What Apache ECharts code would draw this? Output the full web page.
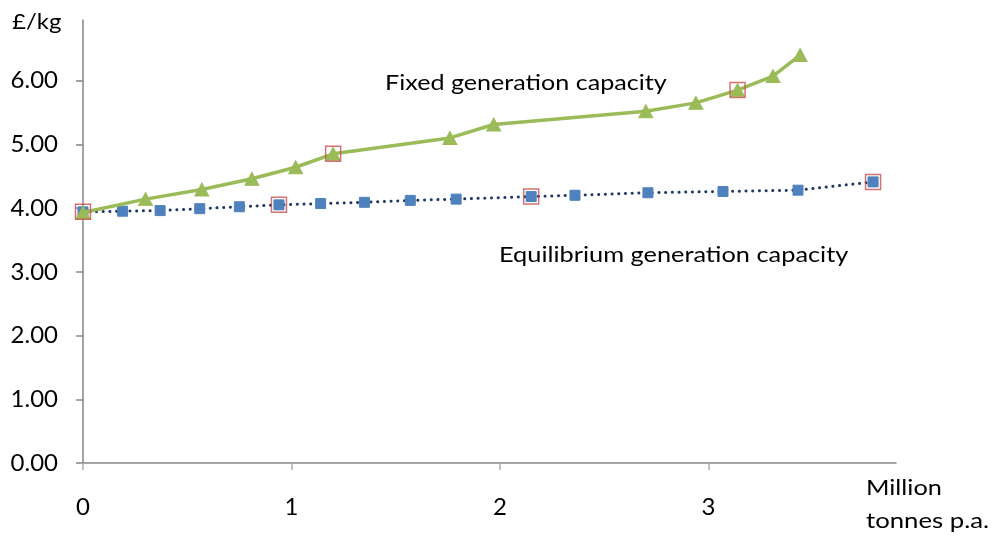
<!DOCTYPE html>
<html>
<head>
<meta charset="utf-8">
<script src="https://cdn.jsdelivr.net/npm/echarts@6/dist/echarts.min.js"></script>
<style>
  html, body { margin: 0; padding: 0; background: #fff; }
  #chart { width: 992px; height: 536px; }
</style>
</head>
<body>
<div id="chart"></div>
<script>
// Cost of output (£/kg) against production (million tonnes p.a.)
var fixedX = [0, 0.30, 0.57, 0.81, 1.02, 1.20, 1.76, 1.97, 2.70, 2.94, 3.14, 3.31, 3.44];
var fixedY = [3.93, 4.14, 4.29, 4.46, 4.64, 4.85, 5.10, 5.31, 5.52, 5.65, 5.85, 6.07, 6.40];

var equilX = [0, 0.19, 0.37, 0.56, 0.75, 0.94, 1.14, 1.35, 1.57, 1.79, 2.15, 2.36, 2.71, 3.07, 3.43, 3.79];
var equilY = [3.94, 3.95, 3.96, 3.99, 4.02, 4.05, 4.07, 4.09, 4.12, 4.14, 4.18, 4.20, 4.24, 4.26, 4.28, 4.41];

// Points picked out with an outlined box
var fixedHighlight = [5, 10];
var equilHighlight = [0, 5, 10, 15];

var xTicks = [0, 1, 2, 3];
var yTicks = [0, 1, 2, 3, 4, 5, 6];

var FONT = 'Lato';

function pairs(xs, ys) {
  return xs.map(function (x, i) { return [x, ys[i]]; });
}
function picks(xs, ys, idx) {
  return idx.map(function (i) { return [xs[i], ys[i]]; });
}
// Free-standing caption, stretched slightly wider than the face's natural width
function caption(text, x, y, sx) {
  return {
    type: 'text', x: x, y: y, scaleX: sx, scaleY: 1,
    style: { text: text, font: '22px ' + FONT, fill: '#000', verticalAlign: 'top', align: 'left' }
  };
}

var chart = echarts.init(document.getElementById('chart'), null, { renderer: 'canvas' });

var axisGrey = '#868686';

chart.setOption({
  animation: false,
  backgroundColor: '#ffffff',
  textStyle: { fontFamily: FONT },
  grid: { left: 83, right: 96, top: 20, bottom: 73, containLabel: false },
  xAxis: {
    type: 'value',
    min: xTicks[0],
    max: 3.9,
    interval: 1,
    splitLine: { show: false },
    axisLine: { show: true, onZero: false, lineStyle: { color: axisGrey, width: 1.5 } },
    axisTick: { show: true, inside: false, length: 7, lineStyle: { color: '#b0b0b0', width: 1.5 } },
    axisLabel: {
      show: true, color: '#000', fontFamily: FONT, fontSize: 24, margin: 32,
      showMaxLabel: false,
      formatter: function (v) { return xTicks.indexOf(v) >= 0 ? String(v) : ''; }
    }
  },
  yAxis: {
    type: 'value',
    min: yTicks[0],
    max: 6.95,
    interval: 1,
    splitLine: { show: false },
    axisLine: { show: true, onZero: false, lineStyle: { color: axisGrey, width: 1.5 } },
    axisTick: { show: true, inside: false, length: 7, lineStyle: { color: axisGrey, width: 1.5 } },
    axisLabel: {
      show: true, color: '#000', fontFamily: FONT, fontSize: 24, margin: 25,
      showMaxLabel: false,
      formatter: function (v) { return yTicks.indexOf(v) >= 0 ? v.toFixed(2) : ''; }
    }
  },
  graphic: [
    caption('£/kg', 12, 11, 1.09),
    caption('Fixed generation capacity', 385, 72, 1.142),
    caption('Equilibrium generation capacity', 499, 244, 1.152),
    caption('Million', 866, 477, 1.15),
    caption('tonnes p.a.', 866, 510, 1.17)
  ],
  series: [
    {
      name: 'Equilibrium generation capacity',
      type: 'line',
      data: pairs(equilX, equilY),
      symbol: 'rect',
      symbolSize: 10,
      itemStyle: { color: '#4f81bd', borderColor: '#4f81bd' },
      lineStyle: { color: '#1f3864', width: 3, type: [0.1, 6.6], cap: 'round' },
      z: 2
    },
    {
      name: 'Fixed generation capacity',
      type: 'line',
      data: pairs(fixedX, fixedY),
      symbol: 'triangle',
      symbolSize: [14, 13],
      itemStyle: { color: '#9bbb59', borderColor: '#9bbb59' },
      lineStyle: { color: '#9bbb59', width: 3.5 },
      z: 3
    },
    {
      name: 'Highlighted',
      type: 'scatter',
      data: picks(equilX, equilY, equilHighlight).concat(picks(fixedX, fixedY, fixedHighlight)),
      symbol: 'rect',
      symbolSize: 15,
      itemStyle: { color: 'rgba(0,0,0,0)', borderColor: '#c8504d', borderWidth: 1.5 },
      z: 4
    }
  ]
});
</script>
</body>
</html>
